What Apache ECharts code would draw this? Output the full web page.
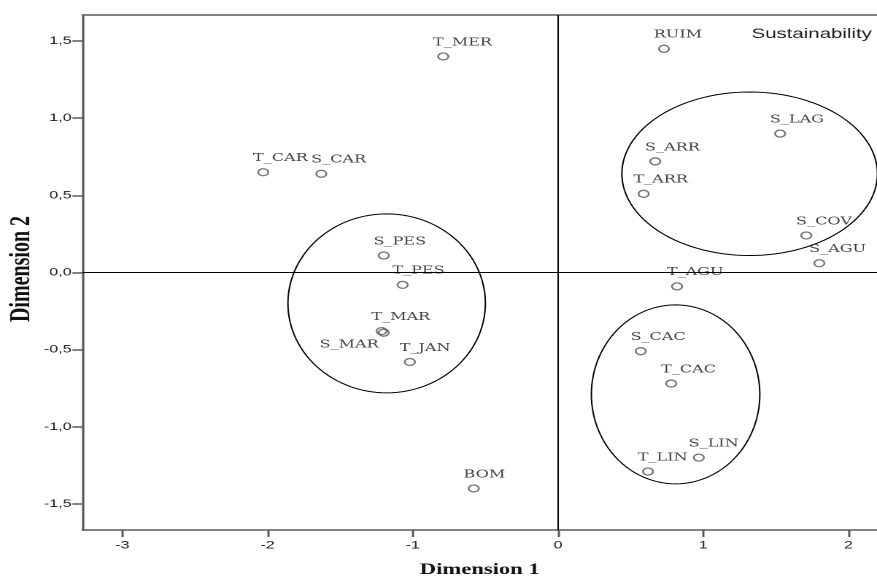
<!DOCTYPE html>
<html>
<head>
<meta charset="utf-8">
<script src="https://cdn.jsdelivr.net/npm/echarts@6/dist/echarts.min.js"></script>
<style>
  html, body { margin: 0; padding: 0; background: #fff; overflow: hidden; }
  #wrap { width: 877px; height: 581px; overflow: hidden; }
  #chart { width: 601px; height: 581px; transform: scaleX(1.4592); transform-origin: 0 0; }
</style>
</head>
<body>
<div id="wrap"><div id="chart"></div></div>
<script>
// ---- data ----
const names = ['T_MER','RUIM','S_LAG','S_ARR','T_ARR','S_COV','S_AGU','T_AGU','T_CAR','S_CAR',
               'S_PES','T_PES','T_MAR','S_MAR','T_JAN','S_CAC','T_CAC','S_LIN','T_LIN','BOM'];
const dim1 = [-0.79, 0.73, 1.53, 0.67, 0.59, 1.71, 1.80, 0.82, -2.03, -1.63,
              -1.20, -1.07, -1.215, -1.20, -1.02, 0.57, 0.78, 0.97, 0.62, -0.58];
const dim2 = [1.40, 1.45, 0.90, 0.72, 0.51, 0.24, 0.06, -0.09, 0.65, 0.64,
              0.11, -0.08, -0.38, -0.39, -0.58, -0.51, -0.72, -1.20, -1.29, -1.40];

const xTicks = [-3, -2, -1, 0, 1, 2];
const yTicks = [-1.5, -1.0, -0.5, 0.0, 0.5, 1.0, 1.5];

// group ellipses (center x, center y, radius x, radius y) in data units
const ellCx = [1.32, -1.18, 0.81];
const ellCy = [0.64, -0.20, -0.79];
const ellRx = [0.88, 0.68, 0.58];
const ellRy = [0.53, 0.58, 0.58];

const legendTitle = 'Sustainability';
const xName = 'Dimension 1';
const yName = 'Dimension 2';

// ---- build ----
const points = names.map((n, i) => {
  const p = { name: n, value: [dim1[i], dim2[i]] };
  if (n === 'S_MAR') {
    p.label = { align: 'right', offset: [-3.5, 12] };
  }
  return p;
});
const ellipses = ellCx.map((c, i) => [c, ellCy[i], ellRx[i], ellRy[i]]);

const axisGray = '#5a5a5a';
const chart = echarts.init(document.getElementById('chart'), null, { devicePixelRatio: 2 });
chart.setOption({
  animation: false,
  grid: { left: 56.6, right: 0, top: 15, bottom: 51, containLabel: false, outerBoundsMode: 'none' },
  xAxis: [{
    type: 'value', min: -3.274, max: 2.197, position: 'bottom',
    name: xName, nameLocation: 'middle', nameGap: 32,
    nameTextStyle: { fontFamily: 'Liberation Serif', fontWeight: 'bold', fontSize: 15.5, color: '#111' },
    axisLine: { show: true, onZero: false, lineStyle: { color: axisGray, width: 1.6 } },
    axisTick: { show: true, length: 7, customValues: xTicks, lineStyle: { color: axisGray, width: 1.5 } },
    axisLabel: { customValues: xTicks, margin: 10, fontFamily: 'Liberation Sans', fontSize: 11, color: '#222',
                 formatter: v => String(v) },
    splitLine: { show: false }
  }, {
    type: 'value', min: -3.274, max: 2.197, position: 'top',
    axisLine: { show: true, onZero: false, lineStyle: { color: axisGray, width: 1.6 } },
    axisTick: { show: false }, axisLabel: { show: false }, splitLine: { show: false }
  }],
  yAxis: {
    type: 'value', min: -1.669, max: 1.669,
    axisLine: { show: true, onZero: false, lineStyle: { color: axisGray, width: 1.6 } },
    axisTick: { show: true, length: 7, customValues: yTicks, lineStyle: { color: axisGray, width: 1.5 } },
    axisLabel: { customValues: yTicks, margin: 7.5, fontFamily: 'Liberation Sans', fontSize: 11, color: '#222',
                 formatter: v => v.toFixed(1).replace('.', ',') },
    splitLine: { show: false }
  },
  graphic: [{
    type: 'text', left: 515, top: 27,
    style: { text: legendTitle, font: '14px "Liberation Sans"', fill: '#222' }
  }, {
    type: 'text', x: 15, y: 269, rotation: Math.PI / 2,
    style: { text: yName, font: 'bold 20px "Liberation Serif"', fill: '#111', align: 'center', verticalAlign: 'middle' }
  }],
  series: [{
    type: 'custom',
    xAxisIndex: 0,
    clip: true,
    silent: true,
    data: ellipses,
    renderItem: function (params, api) {
      const cx = api.value(0), cy = api.value(1), rx = api.value(2), ry = api.value(3);
      const pts = [];
      for (let k = 0; k < 120; k++) {
        const t = k / 120 * Math.PI * 2;
        pts.push(api.coord([cx + rx * Math.cos(t), cy + ry * Math.sin(t)]));
      }
      return { type: 'polygon', shape: { points: pts }, style: { fill: 'none', stroke: '#000', lineWidth: 1 } };
    },
    z: 3
  }, {
    type: 'scatter',
    xAxisIndex: 0,
    data: points,
    symbol: 'circle',
    symbolSize: 7,
    itemStyle: { color: 'rgba(0,0,0,0)', borderColor: '#555', borderWidth: 1.3 },
    label: {
      show: true, formatter: '{b}', position: 'inside', align: 'left', verticalAlign: 'middle',
      offset: [-7, -14], fontFamily: 'DejaVu Serif', fontSize: 11, color: '#111'
    },
    markLine: {
      silent: true, symbol: 'none', label: { show: false },
      lineStyle: { color: '#000', width: 1, type: 'solid' },
      data: [{ xAxis: 0 }, { yAxis: 0 }]
    },
    z: 4
  }]
});
</script>
</body>
</html>
